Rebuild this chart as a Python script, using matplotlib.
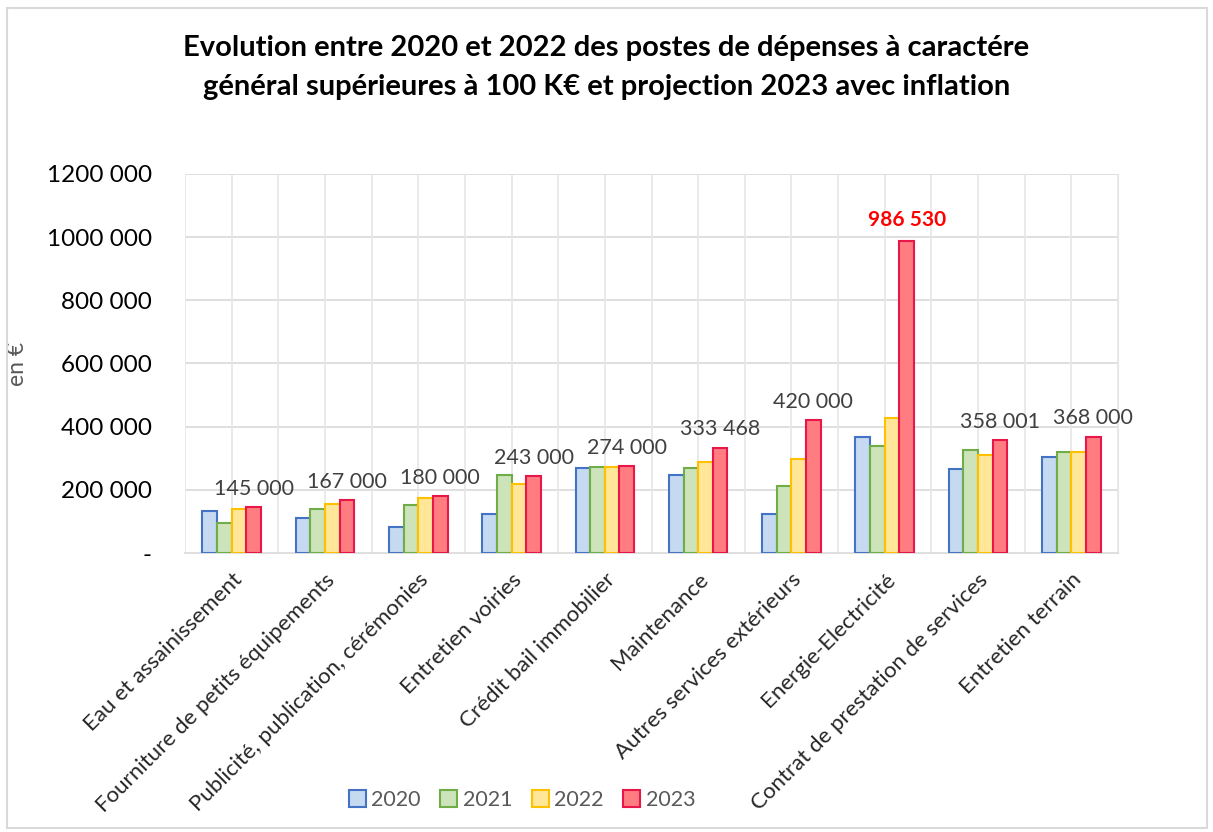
import numpy as np
import matplotlib
matplotlib.use("Agg")
import matplotlib.pyplot as plt
from matplotlib.patches import Rectangle

plt.rcParams['font.family'] = ['Lato', 'DejaVu Sans']

# Data
categories = ["Eau et assainissement", "Fourniture de petits équipements",
              "Publicité, publication, cérémonies", "Entretien voiries",
              "Crédit bail immobilier", "Maintenance", "Autres services extérieurs",
              "Energie-Electricité", "Contrat de prestation de services",
              "Entretien terrain"]
years = ["2020", "2021", "2022", "2023"]
v2020 = [134000, 112000, 81000, 122000, 268000, 247000, 124000, 366000, 267000, 304000]
v2021 = [94000, 139000, 152000, 247000, 272000, 268000, 213000, 340000, 326000, 320000]
v2022 = [138000, 154000, 173000, 220000, 272000, 289000, 297000, 428000, 310000, 320000]
v2023 = [145000, 167000, 180000, 243000, 274000, 333468, 420000, 986530, 358001, 368000]
yticks = [0, 200000, 400000, 600000, 800000, 1000000, 1200000]
ytick_labels = ["-", "200 000", "400 000", "600 000", "800 000", "1000 000", "1200 000"]

fills = ['#C5D9F1', '#CDE3BA', '#FFE699', '#FF7C80']
edges = ['#4472C4', '#70AD47', '#FFC000', '#E8174A']

fig = plt.figure(figsize=(12.13, 8.32), dpi=100)
ax = fig.add_axes([0.1525, 0.3353, 0.7692, 0.4557])

x = np.arange(len(categories))
w = 0.157
series = [v2020, v2021, v2022, v2023]
for i, vals in enumerate(series):
    ax.bar(x + (i - 1.5) * w, vals, w, color=fills[i], edgecolor=edges[i],
           linewidth=1.5, label=years[i], zorder=3)

# labels on 2023 bars
for xi, v in zip(x, v2023):
    txt = f"{v:,}".replace(',', ' ')
    if v == max(v2023):
        ax.annotate(txt, (xi + 1.5 * w, v), xytext=(0, 8), textcoords='offset points',
                    ha='center', va='bottom', fontsize=15, color='#FF0000',
                    fontweight='bold')
    else:
        ax.annotate(txt, (xi + 1.5 * w, v), xytext=(0, 6), textcoords='offset points',
                    ha='center', va='bottom', fontsize=15.5, color='#404040')

ax.set_xlim(-0.5, len(categories) - 0.5)
ax.set_ylim(0, 1200000)
ax.set_yticks(yticks)
ax.set_yticklabels(ytick_labels, fontsize=17.5, color='#000000')
ax.set_xticks(x)
ax.set_xticklabels(categories, rotation=45, ha='right', va='top',
                   rotation_mode='anchor', fontsize=16, color='#262626')
ax.tick_params(axis='y', length=0, pad=24)
ax.tick_params(axis='x', length=0, pad=12)

# grid
for yv in yticks[1:]:
    ax.axhline(yv, color='#D9D9D9', linewidth=1.2, zorder=0)
for gx in np.arange(-0.5, len(categories) - 0.4, 0.5):
    ax.axvline(gx, color='#E6E6E6', linewidth=1.2, zorder=0)
for s in ['top', 'left']:
    ax.spines[s].set_visible(False)
ax.spines['right'].set_color('#E6E6E6')
ax.spines['bottom'].set_color('#D9D9D9')
ax.spines['bottom'].set_linewidth(1.2)

ax.set_ylabel("en €", fontsize=16.5, color='#595959')
ax.yaxis.set_label_coords(-0.168, 0.5)

fig.text(0.5, 0.958, "Evolution entre 2020 et 2022 des postes de dépenses à caractére\n"
         "général supérieures à 100 K€ et projection 2023 avec inflation",
         ha='center', va='top', fontsize=21, fontweight='bold', linespacing=1.6)

fig.legend(loc='center', bbox_to_anchor=(522 / 1213, 1 - 800 / 832), ncol=4,
           frameon=False, fontsize=15.5, handlelength=0.8, handleheight=0.8,
           handletextpad=0.25, columnspacing=0.9, labelcolor='#595959')

fig.patches.append(Rectangle((7 / 1213, 4 / 832), 1200 / 1213, 820 / 832,
                             transform=fig.transFigure, fill=False,
                             edgecolor='#D9D9D9', linewidth=1.5))

fig.savefig("out.png", dpi=100)
